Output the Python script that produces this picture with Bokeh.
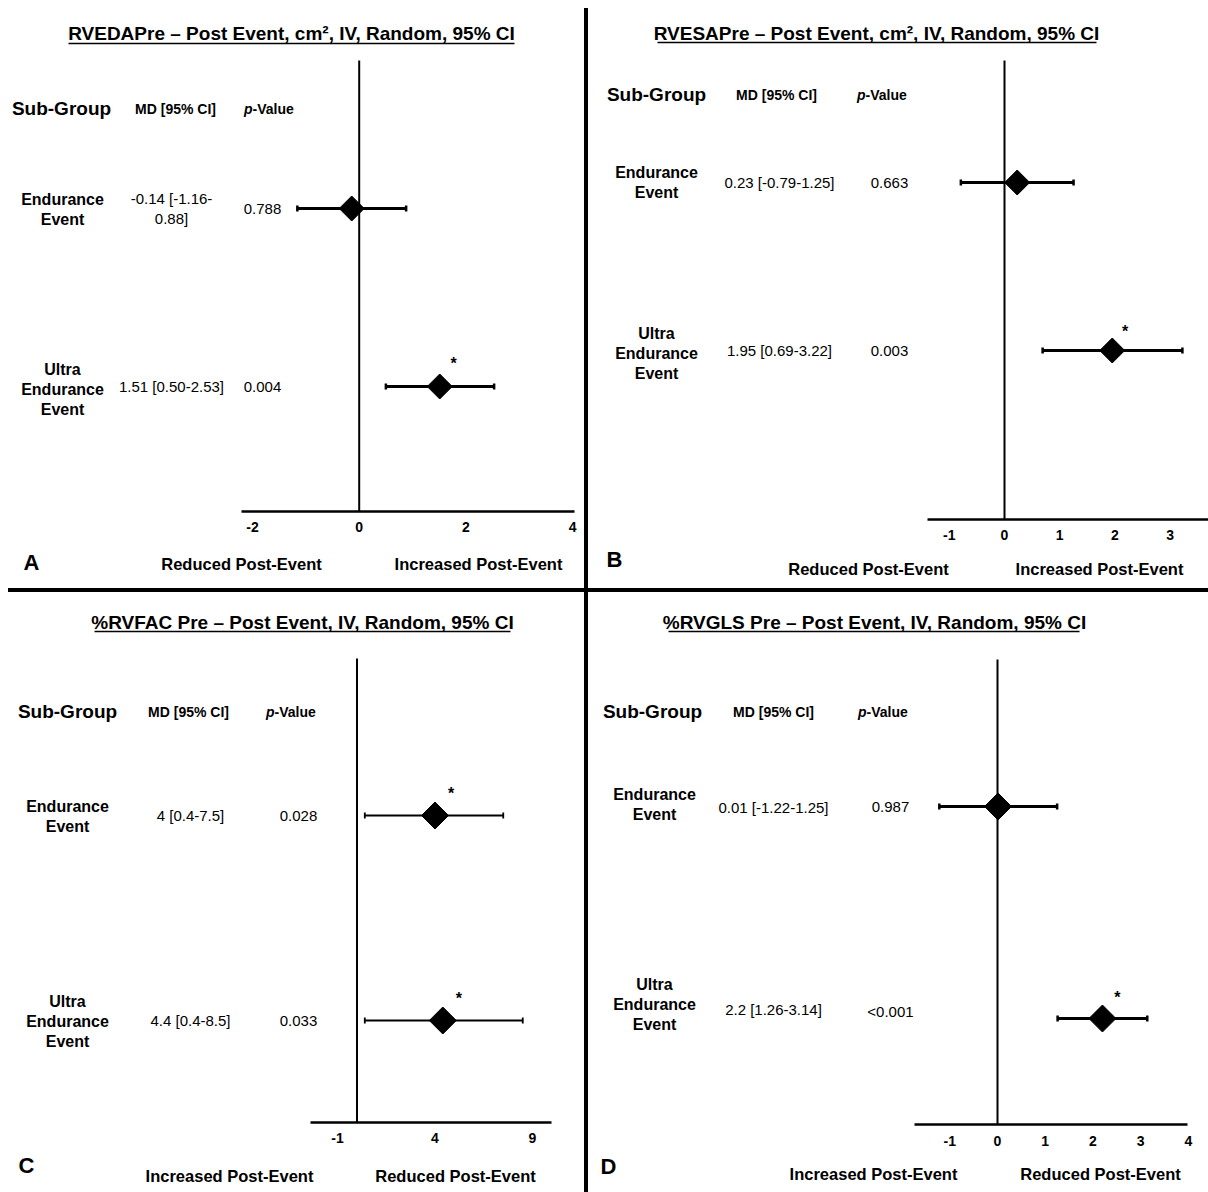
import math
from bokeh.plotting import figure
from bokeh.layouts import row, column
from bokeh.models import Range1d, FixedTicker, Spacer
from bokeh.core.properties import value
from bokeh.embed import file_html
from bokeh.resources import INLINE

FONT = "Liberation Sans"

# ---------------- data ----------------
panel_letters = ["A", "B", "C", "D"]
titles = [
    "RVEDAPre – Post Event, cm², IV, Random, 95% CI",
    "RVESAPre – Post Event, cm², IV, Random, 95% CI",
    "%RVFAC Pre – Post Event, IV, Random, 95% CI",
    "%RVGLS Pre – Post Event, IV, Random, 95% CI",
]
subgroups = ["Endurance\nEvent", "Ultra\nEndurance\nEvent"]
header_subgroup = "Sub-Group"
header_md = "MD [95% CI]"
header_p_italic = "p"
header_p_rest = "-Value"

md_A = [-0.14, 1.51]
ci_low_A = [-1.16, 0.50]
ci_high_A = [0.88, 2.53]
md_label_A = ["-0.14 [-1.16-\n0.88]", "1.51 [0.50-2.53]"]
p_label_A = ["0.788", "0.004"]
significant_A = [False, True]
ticks_A = [-2, 0, 2, 4]

md_B = [0.23, 1.95]
ci_low_B = [-0.79, 0.69]
ci_high_B = [1.25, 3.22]
md_label_B = ["0.23 [-0.79-1.25]", "1.95 [0.69-3.22]"]
p_label_B = ["0.663", "0.003"]
significant_B = [False, True]
ticks_B = [-1, 0, 1, 2, 3]

md_C = [4.0, 4.4]
ci_low_C = [0.4, 0.4]
ci_high_C = [7.5, 8.5]
md_label_C = ["4 [0.4-7.5]", "4.4 [0.4-8.5]"]
p_label_C = ["0.028", "0.033"]
significant_C = [True, True]
ticks_C = [-1, 4, 9]

md_D = [0.01, 2.2]
ci_low_D = [-1.22, 1.26]
ci_high_D = [1.25, 3.14]
md_label_D = ["0.01 [-1.22-1.25]", "2.2 [1.26-3.14]"]
p_label_D = ["0.987", "<0.001"]
significant_D = [False, True]
ticks_D = [-1, 0, 1, 2, 3, 4]

direction_AB = ["Reduced Post-Event", "Increased Post-Event"]
direction_CD = ["Increased Post-Event", "Reduced Post-Event"]

DATA = {
    "A": dict(title=titles[0], md=md_A, lo=ci_low_A, hi=ci_high_A, md_lab=md_label_A,
              p_lab=p_label_A, sig=significant_A, ticks=ticks_A, dirs=direction_AB),
    "B": dict(title=titles[1], md=md_B, lo=ci_low_B, hi=ci_high_B, md_lab=md_label_B,
              p_lab=p_label_B, sig=significant_B, ticks=ticks_B, dirs=direction_AB),
    "C": dict(title=titles[2], md=md_C, lo=ci_low_C, hi=ci_high_C, md_lab=md_label_C,
              p_lab=p_label_C, sig=significant_C, ticks=ticks_C, dirs=direction_CD),
    "D": dict(title=titles[3], md=md_D, lo=ci_low_D, hi=ci_high_D, md_lab=md_label_D,
              p_lab=p_label_D, sig=significant_D, ticks=ticks_D, dirs=direction_CD),
}

# ---------------- layout (page pixel positions) ----------------
LAYOUT = {
    "A": dict(left=8, top=8, width=576, height=580, main_h=540, axis_y=511,
              zero_px=358.7, ppu=53.33, axis_px=(241, 574), standoff=10,
              title_xy=(291, 33), underline=(68, 514, 43), zero_top=60,
              head_y=108, head_x=(61, 175, 269), label_x=62, label_y=(209, 389),
              md_x=171, md_y=(208, 386), p_x=262, p_y=(208, 386), plot_y=(208, 386),
              star=(14, -23), diamond=25, ci_w=3, cap_w=2.5,
              letter_xy=(31, 562), dir_x=(241, 478), dir_y=563),
    "B": dict(left=588, top=8, width=620, height=580, main_h=538, axis_y=519,
              zero_px=1004, ppu=55.25, axis_px=(927, 1208), standoff=10,
              title_xy=(876, 33), underline=(657, 1096, 42), zero_top=60,
              head_y=94, head_x=(656, 776, 882), label_x=656, label_y=(182, 353),
              md_x=779, md_y=(182, 350), p_x=889, p_y=(182, 350), plot_y=(182, 350),
              star=(13, -19), diamond=25, ci_w=3, cap_w=2.5,
              letter_xy=(614, 559), dir_x=(868, 1099), dir_y=568),
    "C": dict(left=8, top=592, width=576, height=600, main_h=560, axis_y=1122,
              zero_px=356.5, ppu=19.5, axis_px=(310, 551), standoff=10,
              title_xy=(302, 622), underline=(94, 510, 631), zero_top=658,
              head_y=711, head_x=(67, 188, 291), label_x=67, label_y=(816, 1021),
              md_x=190, md_y=(815, 1020), p_x=298, p_y=(815, 1020), plot_y=(815, 1020),
              star=(16, -22), diamond=27, ci_w=1.8, cap_w=1.8,
              letter_xy=(26, 1165), dir_x=(229, 455), dir_y=1175),
    "D": dict(left=588, top=592, width=620, height=600, main_h=560, axis_y=1124,
              zero_px=997, ppu=47.7, axis_px=(914, 1187), standoff=11,
              title_xy=(874, 622), underline=(668, 1079, 631), zero_top=659,
              head_y=711, head_x=(652, 773, 883), label_x=654, label_y=(804, 1004),
              md_x=773, md_y=(807, 1009), p_x=890, p_y=(806, 1011), plot_y=(806, 1018),
              star=(15, -21), diamond=27, ci_w=3, cap_w=2.5,
              letter_xy=(608, 1166), dir_x=(873, 1100), dir_y=1173),
}


def txt(p, xs, ys, texts, size, style="normal", align="center"):
    p.text(x=xs, y=ys, text=texts, text_font=value(FONT), text_font_size=size,
           text_font_style=style, text_align=align, text_baseline="middle",
           text_color="black", text_line_height=1.15)


def build(key):
    L, d = LAYOUT[key], DATA[key]
    zero, ppu = L["zero_px"], L["ppu"]

    def X(px):
        return (px - zero) / ppu

    top = L["top"]
    frame_h = L["axis_y"] - top
    W = L["width"]
    xr = Range1d(X(L["left"]), X(L["left"] + W))

    p = figure(width=W, height=L["main_h"], x_range=xr, y_range=Range1d(frame_h, 0),
               output_backend="svg", toolbar_location=None,
               min_border_left=0, min_border_right=0, min_border_top=0,
               min_border_bottom=L["main_h"] - frame_h,
               y_axis_location=None, outline_line_color=None,
               background_fill_color="white", border_fill_color="white")
    p.grid.visible = False
    ax = p.xaxis[0]
    ax.ticker = FixedTicker(ticks=d["ticks"])
    ax.major_label_overrides = {t: str(t) for t in d["ticks"]}
    ax.bounds = (X(L["axis_px"][0]), X(L["axis_px"][1]))
    ax.axis_line_width = 2.5
    ax.axis_line_color = "black"
    ax.major_tick_line_color = None
    ax.minor_tick_line_color = None
    ax.major_tick_out = 0
    ax.major_tick_in = 0
    ax.major_label_text_font = FONT
    ax.major_label_text_font_style = "bold"
    ax.major_label_text_font_size = "14px"
    ax.major_label_text_color = "black"
    ax.major_label_standoff = L["standoff"]

    def Y(py):
        return py - top

    # title + underline
    tx, ty = L["title_xy"]
    txt(p, [X(tx)], [Y(ty)], [d["title"]], "19px", "bold")
    ux0, ux1, uy = L["underline"]
    p.segment(x0=[X(ux0)], y0=[Y(uy)], x1=[X(ux1)], y1=[Y(uy)], line_width=1.5, color="black")

    # zero line
    p.segment(x0=[0], y0=[Y(L["zero_top"])], x1=[0], y1=[frame_h], line_width=2, color="black")

    # headers
    hx = L["head_x"]
    hy = Y(L["head_y"])
    txt(p, [X(hx[0])], [hy], [header_subgroup], "19px", "bold")
    txt(p, [X(hx[1])], [hy], [header_md], "14px", "bold")
    split = hx[2] - 17
    txt(p, [X(split)], [hy], [header_p_italic], "14px", "bold italic", "right")
    txt(p, [X(split)], [hy], [header_p_rest], "14px", "bold", "left")

    # rows
    txt(p, [X(L["label_x"])] * 2, [Y(v) for v in L["label_y"]], subgroups, "16px", "bold")
    txt(p, [X(L["md_x"])] * 2, [Y(v) for v in L["md_y"]], d["md_lab"], "15px")
    txt(p, [X(L["p_x"])] * 2, [Y(v) for v in L["p_y"]], d["p_lab"], "15px")

    ys = [Y(v) for v in L["plot_y"]]
    p.segment(x0=d["lo"], y0=ys, x1=d["hi"], y1=ys, line_width=L["ci_w"], color="black")
    p.scatter(x=d["lo"] + d["hi"], y=ys + ys, marker="dash", angle=math.pi / 2, size=6,
              line_width=L["cap_w"], line_color="black")
    p.scatter(x=d["md"], y=ys, marker="square", angle=math.pi / 4,
              size=L["diamond"] / math.sqrt(2), fill_color="black", line_color="black")
    sx = [m for m, s in zip(d["md"], d["sig"]) if s]
    sy = [y for y, s in zip(ys, d["sig"]) if s]
    if sx:
        p.text(x=sx, y=sy, text=["*"] * len(sx), x_offset=L["star"][0], y_offset=L["star"][1],
               text_font=value(FONT), text_font_size="16px", text_font_style="bold",
               text_align="center", text_baseline="middle", text_color="black")

    # bottom strip
    bh = L["height"] - L["main_h"]
    btop = top + L["main_h"]
    b = figure(width=W, height=bh, x_range=xr, y_range=Range1d(bh, 0),
               output_backend="svg", toolbar_location=None,
               min_border_left=0, min_border_right=0, min_border_top=0, min_border_bottom=0,
               x_axis_location=None, y_axis_location=None, outline_line_color=None,
               background_fill_color="white", border_fill_color="white")
    b.grid.visible = False
    lx, lyy = L["letter_xy"]
    txt(b, [X(lx)], [lyy - btop], [key], "22px", "bold")
    txt(b, [X(v) for v in L["dir_x"]], [L["dir_y"] - btop] * 2, d["dirs"], "16.5px", "bold")

    return column(p, b, spacing=0, styles={"background-color": "white"})


top_row = row(build("A"), build("B"), spacing=4)
bottom_row = row(build("C"), build("D"), spacing=4)
grid = column(top_row, bottom_row, spacing=4, styles={"background-color": "black"})
body = row(Spacer(width=8, height=1184, styles={"background-color": "white"}), grid, spacing=0)
layout = column(Spacer(width=1208, height=8, styles={"background-color": "white"}), body, spacing=0)

open("out.html", "w").write(file_html(layout, INLINE, title="Forest plots"))
